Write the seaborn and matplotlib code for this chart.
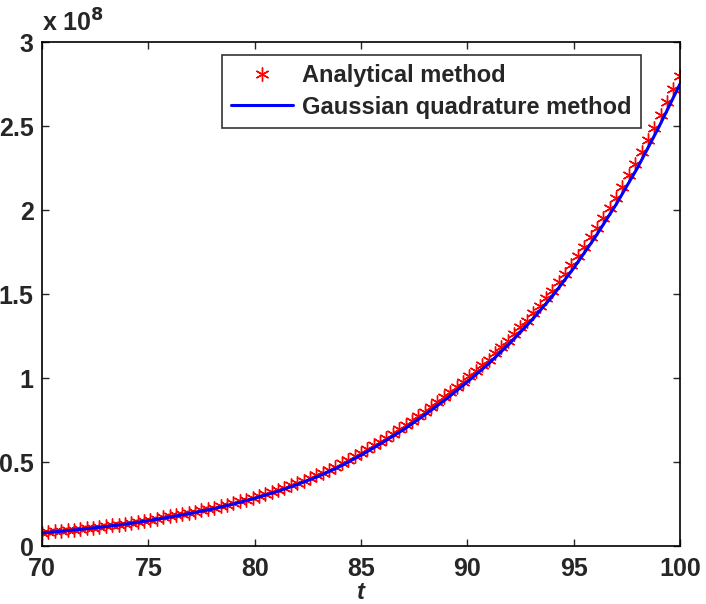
import numpy as np
import pandas as pd
import matplotlib
matplotlib.use("Agg")
import matplotlib.pyplot as plt
import seaborn as sns
from matplotlib.ticker import FuncFormatter


# analytical solution, sampled every 0.3 from t = 70 to 100 (values in 1e8)
t_analytical = np.round(np.arange(70, 100.01, 0.3), 1)
y_analytical = [
    0.080, 0.083, 0.087, 0.090, 0.094, 0.097, 0.101, 0.105, 0.110, 0.114,
    0.118, 0.123, 0.128, 0.133, 0.139, 0.145, 0.151, 0.157, 0.163, 0.170,
    0.176, 0.183, 0.190, 0.197, 0.204, 0.212, 0.220, 0.228, 0.237, 0.247,
    0.256, 0.266, 0.276, 0.287, 0.298, 0.310, 0.322, 0.334, 0.348, 0.361,
    0.375, 0.390, 0.405, 0.420, 0.437, 0.455, 0.473, 0.492, 0.512, 0.534,
    0.555, 0.577, 0.600, 0.622, 0.646, 0.670, 0.694, 0.719, 0.746, 0.773,
    0.800, 0.828, 0.857, 0.885, 0.916, 0.947, 0.979, 1.011, 1.044, 1.077,
    1.110, 1.147, 1.185, 1.222, 1.262, 1.302, 1.343, 1.385, 1.430, 1.475,
    1.520, 1.571, 1.622, 1.673, 1.727, 1.782, 1.838, 1.895, 1.955, 2.015,
    2.075, 2.141, 2.207, 2.273, 2.344, 2.417, 2.491, 2.566, 2.644, 2.722,
    2.800,
]

# gaussian quadrature result at integer t (values in 1e8)
t_gauss = list(range(70, 101))
y_gauss = [
    0.078, 0.089, 0.102, 0.116, 0.132, 0.151, 0.172, 0.195, 0.220, 0.250,
    0.284, 0.322, 0.366, 0.415, 0.473, 0.541, 0.615, 0.693, 0.781, 0.874,
    0.977, 1.085, 1.207, 1.340, 1.487, 1.654, 1.836, 2.034, 2.251, 2.492,
    2.750,
]

analytical = pd.DataFrame({"t": t_analytical, "value": np.array(y_analytical) * 1e8})
gauss = pd.DataFrame({"t": t_gauss, "value": np.array(y_gauss) * 1e8})

sns.set_style("ticks")
plt.rcParams["font.family"] = ["Liberation Sans", "DejaVu Sans"]
plt.rcParams["font.weight"] = "bold"
plt.rcParams["xtick.direction"] = "in"
plt.rcParams["ytick.direction"] = "in"

fig = plt.figure(figsize=(7.06, 6.04), dpi=100)
ax = fig.add_axes([0.0595, 0.096, 0.9035, 0.834])

sns.lineplot(data=analytical, x="t", y="value", ax=ax, color="red",
             linestyle="", marker=(6, 2, 0), markersize=10,
             markeredgecolor="red", markeredgewidth=1.0,
             label="Analytical method")
sns.lineplot(data=gauss, x="t", y="value", ax=ax, color="#0000ff",
             linewidth=2.2, label="Gaussian quadrature method")

ax.set_xlim(70, 100)
ax.set_ylim(0, 3e8)
ax.set_xticks([70, 75, 80, 85, 90, 95, 100])
ax.set_yticks([0, 0.5e8, 1e8, 1.5e8, 2e8, 2.5e8, 3e8])
ax.yaxis.set_major_formatter(FuncFormatter(lambda v, p: "%g" % (v / 1e8)))
ax.tick_params(labelsize=18, length=5, width=1, top=True, right=True)
ax.tick_params(axis="x", pad=8)
ax.tick_params(axis="y", pad=6)
for lbl in ax.get_xticklabels() + ax.get_yticklabels():
    lbl.set_fontweight("bold")
for s in ax.spines.values():
    s.set_linewidth(1.2)
    s.set_color("black")

ax.set_xlabel("t", fontsize=17, fontweight="bold", style="italic", labelpad=0)
ax.set_ylabel("")
ax.text(0.0, 1.012, r"x 10$^{\mathbf{8}}$", transform=ax.transAxes,
        fontsize=18, fontweight="bold", ha="left", va="bottom")

leg = ax.legend(loc="upper right", bbox_to_anchor=(0.939, 0.975),
                borderaxespad=0, fontsize=17, frameon=True, fancybox=False,
                handlelength=2.6, borderpad=0.4, labelspacing=0.35,
                handletextpad=0.4)
leg.get_frame().set_edgecolor("black")
leg.get_frame().set_linewidth(1.2)
for txt in leg.get_texts():
    txt.set_fontweight("bold")

fig.savefig("out.png", dpi=100)
